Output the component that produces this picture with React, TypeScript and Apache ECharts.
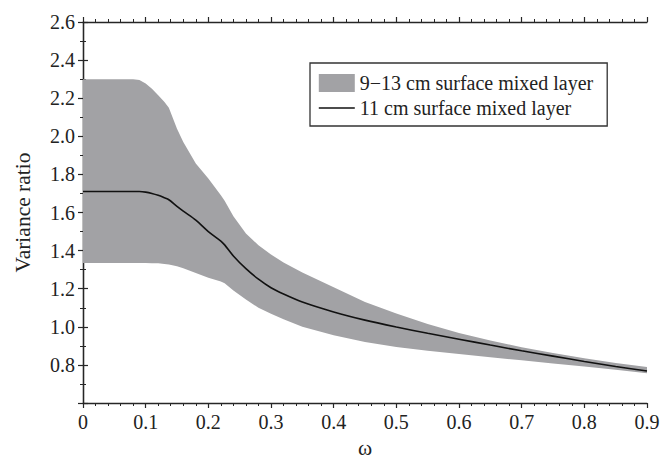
import React, { useEffect, useRef } from "react";
import * as echarts from "echarts";

// Frequency ω shared by the band bounds and the central curve
const omega = [
  0, 0.05, 0.08, 0.09, 0.1, 0.11, 0.12, 0.13, 0.137, 0.15, 0.16, 0.18, 0.2,
  0.22, 0.226, 0.24, 0.26, 0.28, 0.3, 0.32, 0.35, 0.4, 0.45, 0.5, 0.55, 0.6,
  0.65, 0.7, 0.75, 0.8, 0.85, 0.9,
];

// Upper edge of the 9–13 cm band
const bandUpper = [
  2.3, 2.3, 2.3, 2.295, 2.277, 2.25, 2.215, 2.18, 2.15, 2.04, 1.97, 1.857,
  1.778, 1.69, 1.662, 1.58, 1.49, 1.428, 1.38, 1.337, 1.285, 1.207, 1.13,
  1.07, 1.015, 0.968, 0.928, 0.893, 0.862, 0.835, 0.81, 0.789,
];

// Lower edge of the 9–13 cm band
const bandLower = [
  1.335, 1.335, 1.335, 1.335, 1.335, 1.334, 1.333, 1.33, 1.327, 1.318, 1.308,
  1.282, 1.258, 1.238, 1.228, 1.19, 1.143, 1.1, 1.068, 1.04, 1.0, 0.955, 0.92,
  0.894, 0.874, 0.857, 0.84, 0.824, 0.808, 0.792, 0.775, 0.756,
];

// 11 cm surface mixed layer
const ratio11 = [
  1.71, 1.71, 1.71, 1.71, 1.707, 1.7, 1.69, 1.677, 1.667, 1.632, 1.607, 1.56,
  1.5, 1.45, 1.43, 1.372, 1.305, 1.25, 1.205, 1.172, 1.13, 1.078, 1.035,
  0.999, 0.966, 0.935, 0.904, 0.874, 0.846, 0.818, 0.792, 0.768,
];

const bandName = "9\u221213 cm surface mixed layer";
const lineName = "11 cm surface mixed layer";

const FONT = "Liberation Serif";
const AXIS_COLOR = "#262626";
const BAND_COLOR = "#a2a2a5";
const LINE_COLOR = "#111111";

export default function App() {
  const ref = useRef<HTMLDivElement>(null);

  useEffect(() => {
    if (!ref.current) return;
    const chart = echarts.init(ref.current, undefined, { renderer: "svg" });

    const axisLine = { show: true, lineStyle: { color: AXIS_COLOR, width: 1.3 } };
    const axisTick = { show: true, inside: false, length: 5, lineStyle: { color: AXIS_COLOR, width: 1.2 } };
    const minorTick = { show: true, length: 3, lineStyle: { color: AXIS_COLOR, width: 1 } };
    const labelStyle = { fontFamily: FONT, fontSize: 20, color: "#222" };
    const nameStyle = { fontFamily: FONT, fontSize: 21.5, color: "#222" };

    const xCommon = {
      type: "value" as const,
      min: 0,
      max: 0.9,
      interval: 0.1,
      splitLine: { show: false },
      axisLine,
      axisTick,
    };
    const yCommon = {
      type: "value" as const,
      min: 0.6,
      max: 2.6,
      interval: 0.2,
      splitLine: { show: false },
      axisLine,
      axisTick,
    };

    // Band polygon: upper edge left→right, then lower edge right→left
    const bandData = omega.map((w, i) => [w, bandLower[i], bandUpper[i]]);

    chart.setOption({
      animation: false,
      backgroundColor: "#ffffff",
      textStyle: { fontFamily: FONT },
      grid: {
        left: 83,
        right: 15,
        top: 22,
        bottom: 52,
        containLabel: false,
        outerBoundsMode: "none",
      },
      legend: {
        orient: "vertical",
        left: 310,
        top: 63,
        padding: [10, 14, 8, 8],
        itemGap: 5,
        itemWidth: 36,
        itemHeight: 18,
        borderColor: "#333",
        borderWidth: 1.3,
        backgroundColor: "#fff",
        textStyle: { fontFamily: FONT, fontSize: 20, color: "#222" },
        data: [
          { name: bandName, icon: "rect", itemStyle: { color: BAND_COLOR } },
          {
            name: lineName,
            itemStyle: { opacity: 0 },
            lineStyle: { color: LINE_COLOR, width: 1.6 },
          },
        ],
      },
      xAxis: [
        {
          ...xCommon,
          position: "bottom",
          name: "\u03c9",
          nameLocation: "middle",
          nameGap: 33,
          nameTextStyle: nameStyle,
          minorTick: { ...minorTick, splitNumber: 5 },
          axisLabel: {
            ...labelStyle,
            margin: 9,
            formatter: (v: number) => (v === 0 ? "0" : v.toFixed(1)),
          },
        },
        {
          ...xCommon,
          position: "top",
          minorTick: { ...minorTick, splitNumber: 5 },
          axisLabel: { show: false },
        },
      ],
      yAxis: [
        {
          ...yCommon,
          position: "left",
          name: "Variance ratio",
          nameLocation: "middle",
          nameRotate: 90,
          nameGap: 49,
          nameTextStyle: nameStyle,
          minorTick: { ...minorTick, splitNumber: 2 },
          axisLabel: {
            ...labelStyle,
            margin: 8,
            formatter: (v: number) => (Math.abs(v - 0.6) < 1e-6 ? "" : v.toFixed(1)),
          },
        },
        {
          ...yCommon,
          position: "right",
          minorTick: { ...minorTick, splitNumber: 2 },
          axisLabel: { show: false },
        },
      ],
      series: [
        {
          name: bandName,
          type: "custom",
          silent: true,
          itemStyle: { color: BAND_COLOR },
          encode: { x: 0, y: [1, 2] },
          data: bandData,
          z: 1,
          renderItem: (params: any, api: any) => {
            if (params.dataIndex !== 0) return null;
            const upper = bandData.map((d) => api.coord([d[0], d[2]]));
            const lower = bandData.map((d) => api.coord([d[0], d[1]])).reverse();
            return {
              type: "polygon",
              shape: { points: upper.concat(lower) },
              style: { fill: BAND_COLOR, stroke: "none" },
            };
          },
        },
        {
          name: lineName,
          type: "line",
          symbol: "none",
          smooth: 0.3,
          color: LINE_COLOR,
          lineStyle: { color: LINE_COLOR, width: 1.6 },
          data: omega.map((w, i) => [w, ratio11[i]]),
          z: 3,
        },
      ],
    });

    return () => chart.dispose();
  }, []);

  return (
    <div
      ref={ref}
      style={{ position: "absolute", left: 0, top: 0, width: 662, height: 455 }}
    />
  );
}
